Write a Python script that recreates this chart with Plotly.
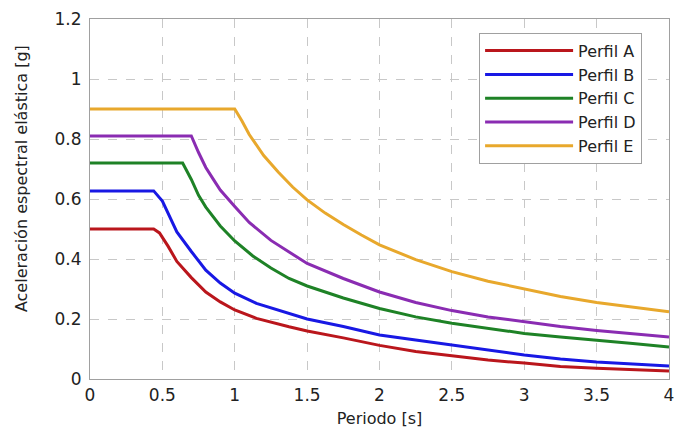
import plotly.graph_objects as go

names = ["Perfil A", "Perfil B", "Perfil C", "Perfil D", "Perfil E"]
colors = ["#BA161C", "#1818E4", "#1E8226", "#8A2CB2", "#E8A82C"]

t_a = [0, 0.44, 0.48, 0.54, 0.6, 0.7, 0.8, 0.9, 1.0, 1.15, 1.375, 1.5, 1.75, 2, 2.25, 2.5, 2.75, 3, 3.25, 3.5, 3.75, 4]
sa_a = [0.5, 0.5, 0.487, 0.442, 0.392, 0.338, 0.29, 0.257, 0.23, 0.202, 0.174, 0.16, 0.137, 0.112, 0.092, 0.078, 0.063, 0.053, 0.042, 0.036, 0.031, 0.027]

t_b = [0, 0.44, 0.5, 0.55, 0.6, 0.7, 0.8, 0.9, 1.0, 1.15, 1.375, 1.5, 1.75, 2, 2.25, 2.5, 2.75, 3, 3.25, 3.5, 3.75, 4]
sa_b = [0.627, 0.627, 0.593, 0.54, 0.49, 0.425, 0.363, 0.32, 0.286, 0.252, 0.219, 0.2, 0.175, 0.147, 0.13, 0.113, 0.097, 0.08, 0.067, 0.057, 0.05, 0.043]

t_c = [0, 0.64, 0.7, 0.75, 0.8, 0.9, 1.0, 1.125, 1.25, 1.375, 1.5, 1.75, 2, 2.25, 2.5, 2.75, 3, 3.25, 3.5, 3.75, 4]
sa_c = [0.72, 0.72, 0.665, 0.612, 0.573, 0.51, 0.46, 0.41, 0.37, 0.335, 0.31, 0.27, 0.235, 0.207, 0.186, 0.168, 0.152, 0.14, 0.13, 0.118, 0.107]

t_d = [0, 0.70, 0.75, 0.8, 0.85, 0.9, 1.0, 1.1, 1.25, 1.5, 1.75, 2, 2.25, 2.5, 2.75, 3, 3.25, 3.5, 3.75, 4]
sa_d = [0.81, 0.81, 0.755, 0.705, 0.667, 0.63, 0.575, 0.522, 0.462, 0.385, 0.335, 0.29, 0.255, 0.228, 0.207, 0.19, 0.175, 0.162, 0.15, 0.14]

t_e = [0, 1.0, 1.05, 1.1, 1.2, 1.3, 1.4, 1.5, 1.625, 1.75, 1.875, 2, 2.25, 2.5, 2.75, 3, 3.25, 3.5, 3.75, 4]
sa_e = [0.9, 0.9, 0.86, 0.815, 0.745, 0.69, 0.64, 0.597, 0.553, 0.515, 0.48, 0.447, 0.398, 0.358, 0.326, 0.3, 0.275, 0.255, 0.24, 0.224]

x_ticks = [0, 0.5, 1, 1.5, 2, 2.5, 3, 3.5, 4]
x_labels = ["0", "0.5", "1", "1.5", "2", "2.5", "3", "3.5", "4"]
y_ticks = [0, 0.2, 0.4, 0.6, 0.8, 1.0, 1.2]
y_labels = ["0", "0.2", "0.4", "0.6", "0.8", "1", "1.2"]

series = [(t_a, sa_a), (t_b, sa_b), (t_c, sa_c), (t_d, sa_d), (t_e, sa_e)]

fig = go.Figure()
for (t, sa), n, c in zip(series, names, colors):
    fig.add_trace(go.Scatter(x=t, y=sa, mode="lines", name=n,
                             line=dict(color=c, width=3)))

FONT = "DejaVu Sans, Liberation Sans, Arial"
axis_common = dict(
    showgrid=True, gridcolor="#C8C8C8", griddash="dash", gridwidth=1,
    zeroline=False, showline=True, linecolor="#A0A0A0", linewidth=1, mirror=True,
    automargin=False,
    ticks="", tickfont=dict(family=FONT, size=17, color="#222222"),
)

fig.update_layout(
    width=676, height=429,
    margin=dict(l=90, r=7, t=19, b=50),
    paper_bgcolor="white", plot_bgcolor="white",
    xaxis=dict(range=[0, 4], tickvals=x_ticks, ticktext=x_labels, ticklabelstandoff=1,
               title=dict(text="Periodo [s]", standoff=8,
                          font=dict(family=FONT, size=16, color="#222222")),
               **axis_common),
    yaxis=dict(range=[0, 1.2], tickvals=y_ticks, ticktext=y_labels, ticklabelstandoff=4,
               **axis_common),
    legend=dict(x=0.672, y=0.962, xanchor="left", yanchor="top",
                bgcolor="white", bordercolor="#A0A0A0", borderwidth=1,
                itemwidth=88, tracegroupgap=0,
                font=dict(family=FONT, size=16, color="#222222")),
    annotations=[dict(text="Aceleración espectral elástica [g]", xref="paper", yref="paper",
                      x=-0.117, y=0.556, textangle=-90, showarrow=False,
                      xanchor="center", yanchor="middle",
                      font=dict(family=FONT, size=16, color="#222222"))],
)

fig.write_html("out.html")
